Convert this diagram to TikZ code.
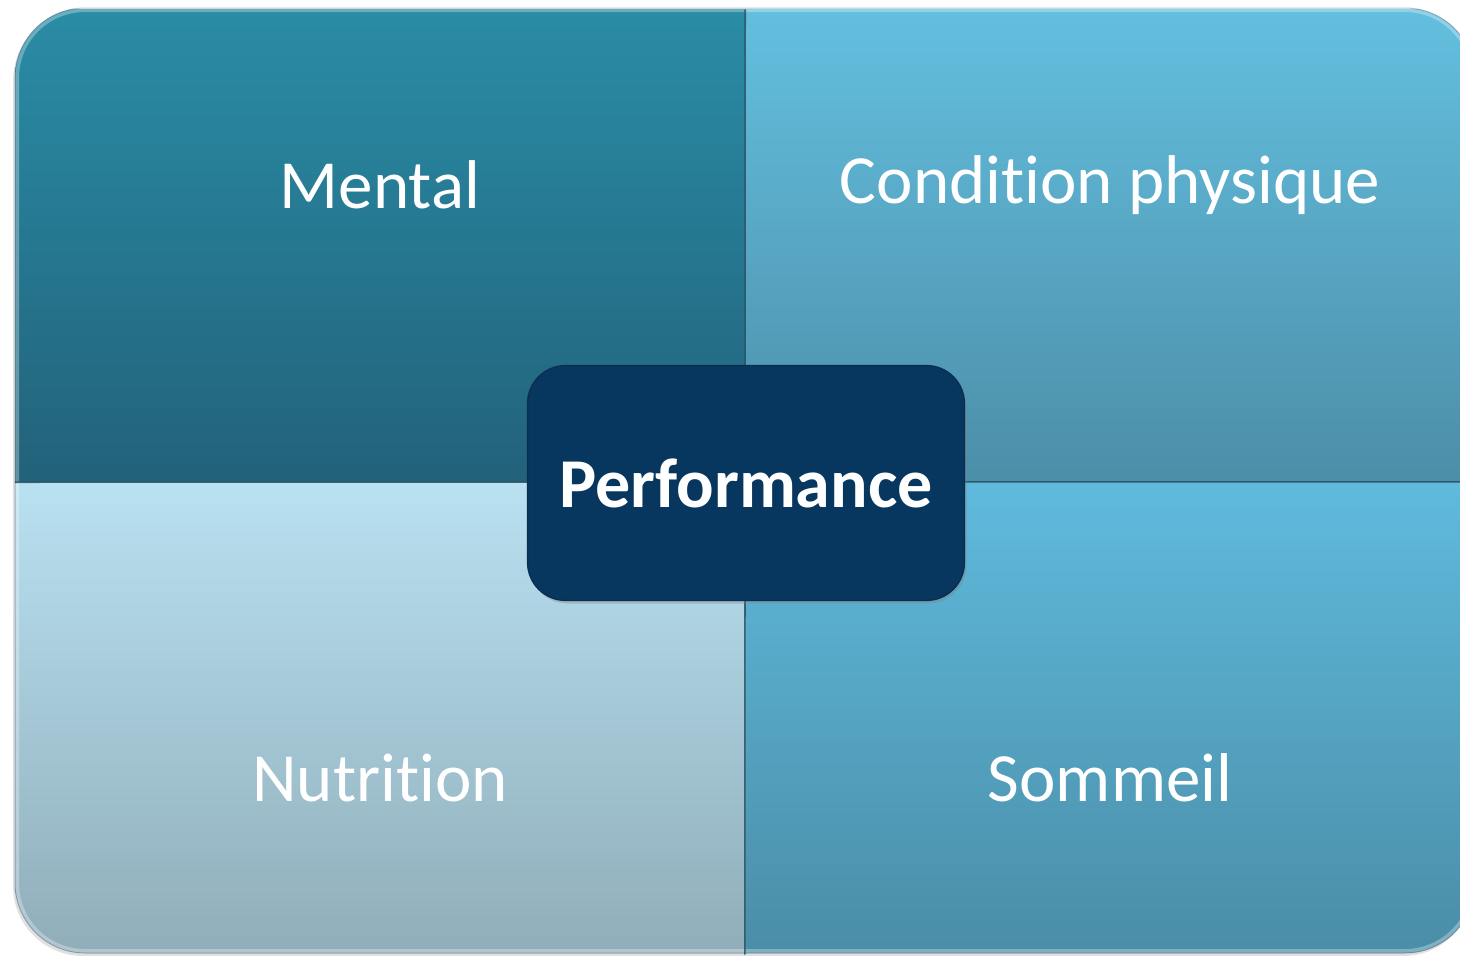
\documentclass[tikz,border=0pt]{standalone}
\usepackage{fontspec}
\setmainfont{Carlito}[Ligatures={NoCommon,NoContextual,NoRequired},Contextuals=NoAlternate]
\usetikzlibrary{shadows}
\definecolor{tlTop}{HTML}{2A8CA6}
\definecolor{tlBot}{HTML}{22627A}
\definecolor{trTop}{HTML}{63BFDF}
\definecolor{trBot}{HTML}{4C8EA8}
\definecolor{blTop}{HTML}{B9E1F1}
\definecolor{blBot}{HTML}{90ADB9}
\definecolor{brTop}{HTML}{5FBADD}
\definecolor{brBot}{HTML}{4A8DA7}
\definecolor{navy}{HTML}{07365F}
\definecolor{navyEdge}{HTML}{0B2E4E}
\definecolor{divline}{HTML}{2A4E5E}
\tikzset{
  quad/.style={rectangle, minimum width=730pt, minimum height=472.5pt, inner sep=0pt, anchor=center},
  quadlabel/.style={text=white, font=\fontsize{69}{82}\selectfont, inner sep=0pt},
  centerbox/.style={rectangle, rounded corners=38pt, fill=navy, draw=navyEdge, line width=1.2pt,
    minimum width=437pt, minimum height=235pt, text=white, font=\bfseries\fontsize{70}{84}\selectfont,
    drop shadow={opacity=0.35, shadow xshift=2pt, shadow yshift=-3pt}},
  divider/.style={draw=divline, line width=1.6pt, opacity=0.85}
}
\begin{document}
\begin{tikzpicture}[x=1pt,y=-1pt]
\useasboundingbox (0,0) rectangle (1460,956);
\clip (0,0) rectangle (1460,956);
% shadow of the panel
\fill[black, opacity=0.12, rounded corners=70pt] (13,11) rectangle (1473,956);
\begin{scope}
  \clip[rounded corners=70pt] (15,8) rectangle (1475,953);
  \node[quad, top color=tlTop, bottom color=tlBot] (qtl) at (380,245.75) {};
  \node[quad, top color=trTop, bottom color=trBot] (qtr) at (1110,245.75) {};
  \node[quad, top color=blTop, bottom color=blBot] (qbl) at (380,718.25) {};
  \node[quad, top color=brTop, bottom color=brBot] (qbr) at (1110,718.25) {};
  % bevel highlights
  \draw[white, opacity=0.3, line width=4pt, rounded corners=68pt] (17,10) rectangle (1473,951);
\end{scope}
\draw[divider] (qtl.north east) -- (qbr.south west);
\draw[divider] (qtl.south west) -- (qbr.north east);
\draw[navyEdge, opacity=0.3, line width=1pt, rounded corners=70pt] (15,8) rectangle (1475,953);
\node[quadlabel] (lmental) at (380,185) {Mental};
\node[quadlabel] (lcond) at (1110,185) {Condition physique};
\node[quadlabel] (lnutr) at (380,778) {Nutrition};
\node[quadlabel] (lsomm) at (1110,778) {Sommeil};
\node[centerbox] (perf) at (746,483) {Performance};
\end{tikzpicture}
\end{document}
